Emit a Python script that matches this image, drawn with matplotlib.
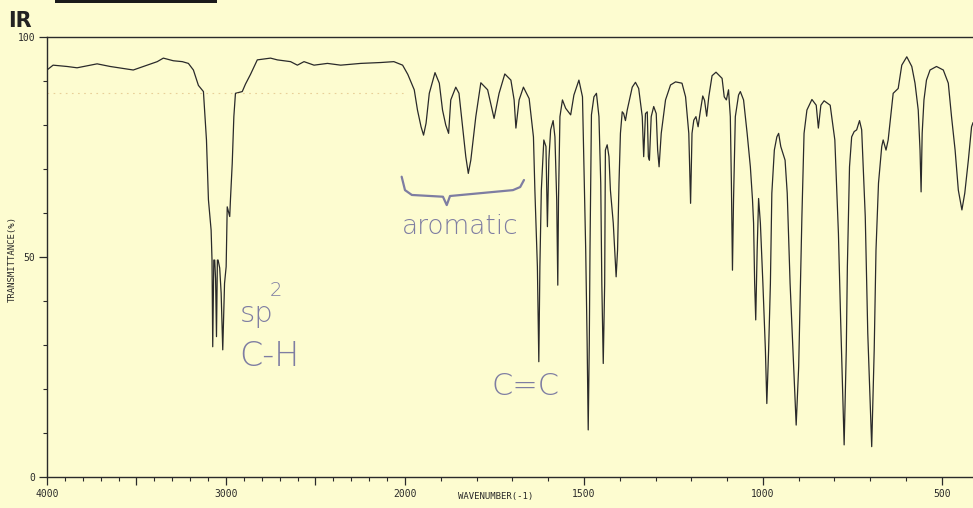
import numpy as np
import matplotlib
matplotlib.use("Agg")
import matplotlib.pyplot as plt
from matplotlib.patches import Rectangle

# ---------------- data ----------------
wn_high = [4000, 3966, 3888, 3832, 3720, 3647, 3518, 3440, 3384, 3350, 3294, 3244, 3210, 3182,
           3154, 3126, 3109, 3098, 3083, 3078, 3074, 3068, 3063, 3058, 3053, 3048, 3044, 3035,
           3027, 3018, 3008, 2999, 2993, 2979, 2975, 2965, 2956, 2947, 2909, 2891, 2863, 2825,
           2751, 2713, 2639, 2601, 2564, 2508, 2433, 2359, 2247, 2135, 2062, 2013]
tr_high = [92.5, 93.6, 93.3, 93.0, 93.9, 93.3, 92.5, 93.6, 94.4, 95.2, 94.6, 94.4, 94.0, 92.5,
           89.0, 87.6, 76.6, 63.0, 56.1, 49.3, 29.6, 49.3, 49.3, 45.0, 31.9, 49.3, 49.3, 47.5,
           41.8, 28.9, 44.0, 47.8, 61.4, 59.2, 63.0, 71.3, 81.9, 87.2, 87.6, 89.3, 91.5, 94.8,
           95.2, 94.8, 94.4, 93.6, 94.4, 93.6, 94.0, 93.6, 94.0, 94.2, 94.4, 93.6]

wn_mid = [1992, 1974, 1965, 1955, 1948, 1941, 1932, 1916, 1904, 1895, 1886, 1878, 1872, 1858,
          1849, 1839, 1830, 1823, 1816, 1802, 1788, 1769, 1751, 1737, 1721, 1704, 1695, 1690,
          1681, 1669, 1653, 1641, 1637, 1630, 1626, 1623, 1619, 1612, 1606, 1602, 1598, 1593,
          1586, 1581, 1576, 1573, 1571, 1567, 1560, 1551, 1537, 1528, 1514, 1504, 1500, 1495,
          1491, 1488, 1485, 1483, 1479, 1472, 1465, 1458, 1453, 1450, 1446, 1442, 1440, 1435,
          1430, 1426, 1418, 1410, 1406, 1402, 1398, 1393, 1389, 1384, 1379, 1365, 1356, 1347,
          1337, 1333, 1328, 1323, 1320, 1317, 1312, 1305, 1298, 1294, 1290, 1284, 1272, 1258,
          1244, 1226, 1216, 1207, 1202, 1198, 1193, 1187, 1181, 1175, 1168, 1163, 1157, 1151,
          1142, 1131, 1114, 1108, 1102, 1096, 1091, 1088, 1085, 1082, 1077, 1068, 1063, 1054]
tr_mid = [91.5, 88.0, 83.4, 79.6, 77.7, 80.4, 87.2, 91.9, 89.5, 83.4, 80.0, 78.1, 85.7, 88.6,
          87.2, 79.6, 72.8, 69.0, 72.0, 81.9, 89.6, 88.0, 81.5, 87.2, 91.6, 90.2, 85.7, 79.3,
          85.7, 88.6, 86.0, 77.3, 65.2, 47.8, 26.2, 47.8, 65.2, 76.6, 75.1, 56.9, 72.0, 78.9,
          81.0, 77.3, 63.0, 43.6, 63.0, 81.9, 85.7, 83.8, 82.3, 86.8, 90.2, 86.4, 70.5, 51.6,
          30.4, 10.7, 30.4, 51.6, 82.3, 86.4, 87.2, 81.9, 66.8, 44.0, 25.8, 44.0, 74.3, 75.5,
          72.8, 65.2, 57.7, 45.5, 51.6, 66.8, 78.1, 83.0, 82.6, 81.0, 83.4, 88.6, 89.7, 88.3,
          81.9, 72.8, 82.6, 83.0, 72.8, 72.0, 81.9, 84.2, 82.6, 74.3, 70.5, 78.1, 85.7, 89.1,
          89.8, 89.5, 86.4, 78.1, 62.2, 78.1, 81.1, 81.9, 79.6, 83.0, 86.6, 85.6, 82.0, 86.5,
          91.2, 92.0, 90.6, 86.4, 85.7, 88.0, 81.9, 66.8, 47.0, 63.0, 81.9, 86.8, 87.6, 85.7]

wn_low = [1044, 1035, 1029, 1026, 1023, 1020, 1016, 1012, 1007, 1000, 993, 989, 984, 979,
          975, 968, 961, 956, 950, 938, 932, 924, 914, 907, 900, 896, 891, 885,
          877, 863, 851, 845, 838, 829, 812, 799, 789, 783, 773, 767, 764, 758,
          752, 745, 738, 730, 724, 714, 707, 696, 689, 684, 677, 668, 664, 656,
          650, 643, 636, 622, 612, 598, 584, 575, 566, 561, 558, 555, 550, 543,
          533, 515, 496, 482, 473, 463, 454, 444, 436, 426, 417, 413]
tr_low = [78.1, 70.5, 63.0, 57.7, 44.0, 35.7, 51.6, 63.3, 57.7, 44.0, 28.9, 16.7, 28.9, 44.0,
          64.5, 74.3, 77.3, 78.1, 75.1, 72.0, 64.5, 44.0, 25.1, 11.8, 25.1, 40.2, 59.2, 78.1,
          83.4, 85.8, 84.5, 79.3, 84.5, 85.5, 84.5, 76.6, 55.4, 36.4, 7.3, 28.9, 47.8, 70.5,
          77.3, 78.5, 78.9, 81.0, 78.9, 59.2, 32.7, 6.9, 28.9, 51.6, 66.8, 75.1, 76.6, 74.3,
          76.6, 81.9, 87.2, 88.3, 93.6, 95.5, 93.3, 89.5, 83.4, 74.3, 64.8, 78.1, 85.7, 90.2,
          92.5, 93.3, 92.5, 89.5, 81.9, 74.3, 65.2, 60.7, 64.5, 72.0, 79.6, 80.5]

major_ticks = [4000, 3500, 3000, 2500, 2000, 1500, 1000, 500]
tick_labels = ["4000", "", "3000", "", "2000", "1500", "1000", "500"]
y_ticks = [0, 50, 100]
y_labels = ["0", "50", "100"]

wavenumber = np.array(wn_high + wn_mid + wn_low, dtype=float)
transmittance = np.array(tr_high + tr_mid + tr_low, dtype=float)

# ---------------- styling ----------------
BG = "#fdfcd0"
INK = "#2a2a2a"
PEN = "#7e7da2"
mono = "DejaVu Sans Mono"

fig = plt.figure(figsize=(9.73, 5.08), dpi=100, facecolor=BG)
ax = fig.add_axes([47/973, 1 - 477/508, 926/973, 440/508], facecolor=BG)


def fwd(w):
    w = np.asarray(w, dtype=float)
    return np.where(w >= 2000, w, 2 * w - 2000)


def inv(v):
    v = np.asarray(v, dtype=float)
    return np.where(v >= 2000, v, (v + 2000) / 2)


ax.set_xscale("function", functions=(fwd, inv))
ax.plot(wavenumber, transmittance, color=INK, lw=0.9)

ax.set_xlim(4000, 413)
ax.set_ylim(0, 100)

# faint dotted reference line on the chart paper
ax.plot([4000, 2000], [87.2, 87.2], color="#e3c48a", lw=0.8, ls=(0, (1.5, 4)), alpha=0.8)

# ticks
ax.set_xticks(major_ticks)
ax.set_xticklabels(tick_labels, fontsize=7, family=mono, color=INK)
ax.set_xticks(np.arange(500, 4001, 100), minor=True)
ax.set_yticks(y_ticks)
ax.set_yticklabels(y_labels, fontsize=7, family=mono, color=INK)
ax.set_yticks(np.arange(0, 101, 10), minor=True)
ax.tick_params(axis="both", which="major", direction="out", length=6, width=0.9, color=INK, pad=2.5)
ax.tick_params(axis="both", which="minor", direction="out", length=3, width=0.8, color=INK)
ax.xaxis.set_minor_formatter(matplotlib.ticker.NullFormatter())

for s in ["left", "bottom", "top"]:
    ax.spines[s].set_color(INK)
    ax.spines[s].set_linewidth(1.0)
ax.spines["right"].set_visible(False)

ax.set_xlabel("WAVENUMBER(-1)", fontsize=6.5, family=mono, color=INK)
ax.xaxis.set_label_coords(0.485, -0.035)
fig.text(12/973, 0.49, "TRANSMITTANCE(%)", rotation=90, fontsize=6.5, family=mono,
         color=INK, ha="center", va="center")

# title & scan artifact bar
fig.text(8/973, 1 - 27/508, "IR", fontsize=15, fontweight="bold", color="#222222",
         ha="left", va="baseline")
fig.patches.append(Rectangle((55/973, 1 - 3/508), 162/973, 3/508, transform=fig.transFigure,
                             color="#1a1a1a", lw=0))

# hand-written annotations
ax.text(2830, 37.0, "sp", fontsize=21, color=PEN, ha="center", va="center",
        fontweight="light")
ax.text(2720, 42.5, "2", fontsize=14, color=PEN, ha="center", va="center",
        fontweight="light")
ax.text(2755, 27.5, "C-H", fontsize=24, color=PEN, ha="center", va="center",
        fontweight="light")
ax.text(1847, 57.0, "aromatic", fontsize=19, color=PEN, ha="center", va="center",
        fontweight="light")
ax.text(1663, 20.5, "C=C", fontsize=22, color=PEN, ha="center", va="center",
        fontweight="light")
bx = [0.383, 0.3866, 0.394, 0.4276, 0.4317, 0.4352, 0.5032, 0.511, 0.5151]
by = [0.6825, 0.652, 0.641, 0.637, 0.618, 0.6386, 0.652, 0.659, 0.675]
ax.plot(bx, by, transform=ax.transAxes, color=PEN, lw=1.6, solid_capstyle="round",
        solid_joinstyle="round")

fig.savefig("out.png", dpi=100, facecolor=BG)
